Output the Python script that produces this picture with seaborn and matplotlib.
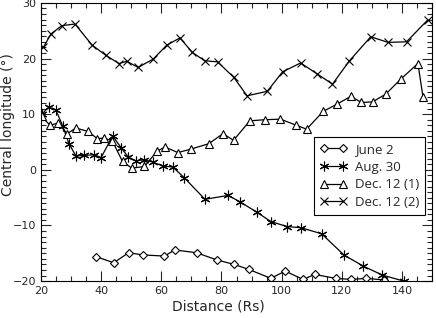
import matplotlib
matplotlib.use("Agg")
import matplotlib.pyplot as plt
from matplotlib.ticker import MultipleLocator
import seaborn as sns

# June 2 (diamonds)
june_x = [38.3, 44.2, 49.1, 54.0, 61.0, 64.5, 71.7, 78.5, 84.2, 89.1, 96.4, 101.2, 107.1, 111.0, 117.9, 123.2, 128.2, 134.0]
june_y = [-15.6, -16.7, -14.9, -15.3, -15.5, -14.4, -14.9, -16.2, -17.0, -17.9, -19.5, -18.2, -19.7, -18.8, -19.5, -19.7, -19.5, -19.8]

# Aug. 30 (asterisks)
aug_x = [20.3, 22.6, 25.0, 27.2, 29.3, 31.6, 34.3, 37.6, 40.0, 43.8, 46.6, 49.0, 51.6, 54.2, 57.1, 60.4, 63.8, 67.6, 74.5, 82.2, 86.3, 91.7, 96.4, 101.8, 106.4, 113.3, 120.7, 127.1, 133.4, 140.6]
aug_y = [10.0, 11.3, 10.7, 7.9, 4.7, 2.5, 2.6, 2.7, 2.2, 6.1, 4.0, 2.3, 1.6, 1.8, 1.4, 0.7, 0.5, -1.4, -5.3, -4.6, -5.8, -7.6, -9.3, -10.2, -10.4, -11.5, -15.3, -17.3, -18.9, -20.0]

# Dec. 12 (1) (triangles)
dec1_x = [20.2, 23.0, 25.7, 28.7, 31.6, 35.7, 38.7, 40.9, 43.7, 47.1, 50.2, 54.4, 58.5, 61.2, 65.5, 69.7, 75.8, 80.5, 84.0, 89.4, 94.3, 99.6, 104.9, 108.3, 113.8, 118.4, 123.0, 126.5, 130.2, 134.6, 139.6, 145.3, 147.0]
dec1_y = [9.6, 8.0, 8.4, 6.5, 7.5, 6.9, 5.6, 5.7, 5.2, 1.5, 0.3, 0.6, 3.3, 4.1, 3.1, 3.7, 4.7, 6.5, 5.3, 8.8, 9.0, 9.1, 8.0, 7.3, 10.5, 11.8, 13.2, 12.1, 12.2, 13.6, 16.3, 19.1, 13.0]

# Dec. 12 (2) (crosses)
dec2_x = [20.8, 23.3, 26.9, 31.3, 37.0, 41.5, 45.9, 48.5, 52.3, 57.3, 61.8, 66.2, 70.3, 74.4, 78.7, 84.1, 88.5, 95.2, 100.3, 106.3, 111.6, 116.9, 122.4, 129.6, 135.4, 141.5, 148.5]
dec2_y = [22.0, 24.4, 25.9, 26.2, 22.4, 20.6, 19.1, 19.5, 18.4, 19.9, 22.4, 23.7, 21.1, 19.6, 19.4, 16.6, 13.3, 14.1, 17.6, 19.2, 17.3, 15.4, 19.5, 23.9, 22.9, 23.0, 26.9]

sns.set_style("ticks")
plt.rcParams['font.family'] = ['DejaVu Sans']
plt.rcParams['xtick.direction'] = 'in'
plt.rcParams['ytick.direction'] = 'in'

fig = plt.figure(figsize=(4.36, 3.18), dpi=100)
ax = fig.add_axes([0.094, 0.116, 0.897, 0.875])

common = dict(color='black', linewidth=0.9, estimator=None, sort=False, ax=ax,
              markeredgecolor='black', markeredgewidth=0.8)
sns.lineplot(x=june_x, y=june_y, marker='D', markersize=4.5, markerfacecolor='white',
             label='June 2', **common)
sns.lineplot(x=aug_x, y=aug_y, marker=(6, 2, 0), markersize=7,
             label='Aug. 30', **common)
sns.lineplot(x=dec1_x, y=dec1_y, marker='^', markersize=6, markerfacecolor='white',
             label='Dec. 12 (1)', **common)
sns.lineplot(x=dec2_x, y=dec2_y, marker='x', markersize=5.5,
             label='Dec. 12 (2)', **common)

ax.set_xlim(20, 150)
ax.set_ylim(-20, 30)
ax.xaxis.set_major_locator(MultipleLocator(20))
ax.xaxis.set_minor_locator(MultipleLocator(5))
ax.yaxis.set_major_locator(MultipleLocator(10))
ax.yaxis.set_minor_locator(MultipleLocator(1))
ax.tick_params(which='both', top=True, right=True, labelsize=8, width=0.8)
ax.tick_params(which='major', length=7)
ax.tick_params(which='minor', length=3.5)
for s in ax.spines.values():
    s.set_linewidth(0.8)
    s.set_color('black')

ax.set_xlabel('Distance (Rs)', fontsize=10)
ax.set_ylabel('Central longitude (°)', fontsize=10)
ax.xaxis.set_label_coords(0.453, -0.065)
ax.yaxis.set_label_coords(-0.066, 0.561)

leg = ax.legend(loc='upper right', bbox_to_anchor=(0.982, 0.518), borderaxespad=0,
                numpoints=2, handlelength=2.0, handletextpad=0.6, fancybox=False,
                framealpha=1, edgecolor='black', prop={'family': 'Open Sans', 'size': 9.5},
                labelspacing=0.35, borderpad=0.45)
leg.get_frame().set_linewidth(0.8)

fig.savefig('out.png', dpi=100)
